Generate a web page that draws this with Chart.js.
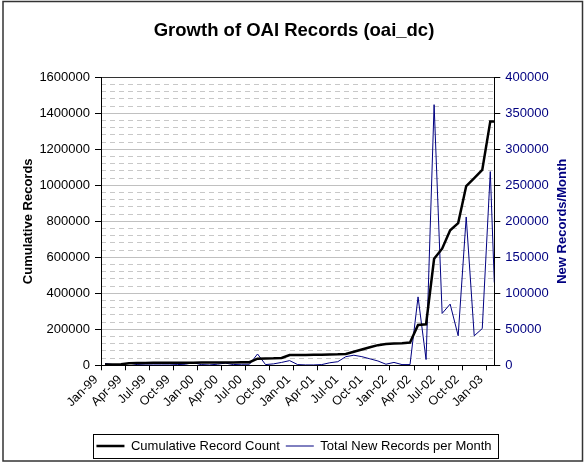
<!DOCTYPE html>
<html>
<head>
<meta charset="utf-8">
<script src="https://cdn.jsdelivr.net/npm/chart.js@4.4.0/dist/chart.umd.min.js"></script>
<style>
  html, body { margin: 0; padding: 0; background: #fff; }
  canvas { display: block; }
</style>
</head>
<body>
<canvas id="grafico" width="588" height="464"></canvas>
<script>
// monthly samples, Jan-99 .. Jan-03, plus the count taken at the start of Feb-03
const months = [
  'Jan-99', 'Feb-99', 'Mar-99', 'Apr-99', 'May-99', 'Jun-99', 'Jul-99', 'Aug-99', 'Sep-99', 'Oct-99', 'Nov-99', 'Dec-99',
  'Jan-00', 'Feb-00', 'Mar-00', 'Apr-00', 'May-00', 'Jun-00', 'Jul-00', 'Aug-00', 'Sep-00', 'Oct-00', 'Nov-00', 'Dec-00',
  'Jan-01', 'Feb-01', 'Mar-01', 'Apr-01', 'May-01', 'Jun-01', 'Jul-01', 'Aug-01', 'Sep-01', 'Oct-01', 'Nov-01', 'Dec-01',
  'Jan-02', 'Feb-02', 'Mar-02', 'Apr-02', 'May-02', 'Jun-02', 'Jul-02', 'Aug-02', 'Sep-02', 'Oct-02', 'Nov-02', 'Dec-02',
  'Jan-03', 'Feb-03'
];

const cumulative = [
  4000, 5000, 6000, 12000, 13000, 13000, 13500, 13500, 14000, 14000, 14000, 14500,
  15000, 15000, 15500, 16000, 16000, 16500, 17000, 37000, 38000, 39000, 41000, 57000,
  57000, 57500, 58000, 59000, 60000, 61000, 63000, 75000, 88000, 100000, 112000, 118000,
  121000, 123000, 126000, 224000, 228000, 592000, 648000, 750000, 790000, 996000, 1040000, 1085000,
  1355000, 1355000
];

const newPerMonth = [
  2500, 1000, 1000, 3000, 1000, 500, 500, 500, 500, 1000, 1500, 3500,
  1000, 500, 1500, 3000, 1000, 1500, 1500, 15700, 1000, 2000, 4000, 6500,
  1000, 500, 500, 1000, 3500, 5000, 12000, 14000, 12000, 9000, 6000, 1500,
  4000, 1000, 1000, 95000, 8000, 362000, 72000, 85000, 41000, 206000, 41000, 51000,
  269000, 115000
];

const xTickLabels = [
  'Jan-99', 'Apr-99', 'Jul-99', 'Oct-99', 'Jan-00', 'Apr-00', 'Jul-00', 'Oct-00',
  'Jan-01', 'Apr-01', 'Jul-01', 'Oct-01', 'Jan-02', 'Apr-02', 'Jul-02', 'Oct-02', 'Jan-03'
];
const leftTicks = [0, 200000, 400000, 600000, 800000, 1000000, 1200000, 1400000, 1600000];
const rightTicks = [0, 50000, 100000, 150000, 200000, 250000, 300000, 350000, 400000];

// mid-month position for each sample, the last one sits on 1 Feb-03
const monthPos = months.map((m, i) => i < months.length - 1 ? i + 0.5 : i);

Chart.defaults.font.family = "'Liberation Sans', Arial, sans-serif";

// white background, outer frame, frame round the legend, right axis title
const molduras = {
  id: 'molduras',
  beforeDraw(chart) {
    const ctx = chart.ctx;
    ctx.save();
    ctx.fillStyle = '#fff';
    ctx.fillRect(0, 0, chart.width, chart.height);
    ctx.restore();
  },
  afterDraw(chart) {
    const ctx = chart.ctx;
    ctx.save();
    ctx.strokeStyle = '#333';
    ctx.lineWidth = 1.5;
    ctx.strokeRect(3, 1.5, 579.5, 459.5);

    const hb = chart.legend.legendHitBoxes;
    const last = hb[hb.length - 1];
    const l = Math.round(hb[0].left - 3), r = Math.round(last.left + last.width + 6);
    const t = Math.round(hb[0].top - 5.5), b = Math.round(hb[0].top + hb[0].height + 5.5);
    ctx.strokeStyle = '#000';
    ctx.lineWidth = 1;
    ctx.strokeRect(l + 0.5, t + 0.5, r - l, b - t);

    const area = chart.chartArea;
    ctx.translate(chart.scales.y1.right - 26, (area.top + area.bottom) / 2);
    ctx.rotate(-Math.PI / 2);
    ctx.font = "bold 13px 'Liberation Sans', Arial, sans-serif";
    ctx.fillStyle = '#000080';
    ctx.textAlign = 'center';
    ctx.textBaseline = 'middle';
    ctx.fillText('New Records/Month', 0, 0);
    ctx.restore();
  }
};

const grafico = new Chart(document.getElementById('grafico').getContext('2d'), {
  type: 'line',
  data: {
    datasets: [{
      label: 'Cumulative Record Count',
      data: cumulative.map((v, i) => ({ x: monthPos[i], y: v })),
      borderColor: '#000',
      borderWidth: 2.5,
      pointRadius: 0,
      tension: 0,
      yAxisID: 'y'
    }, {
      label: 'Total New Records per Month',
      data: newPerMonth.map((v, i) => ({ x: monthPos[i], y: v })),
      borderColor: '#000080',
      borderWidth: 1,
      pointRadius: 0,
      tension: 0,
      yAxisID: 'y1'
    }]
  },
  options: {
    responsive: false,
    animation: false,
    devicePixelRatio: 1,
    layout: { padding: { left: 0, right: 0, top: 0, bottom: 1.5 } },
    plugins: {
      title: {
        display: true,
        text: 'Growth of OAI Records (oai_dc)',
        color: '#000',
        font: { size: 18.5, weight: 'bold' },
        padding: { top: 20, bottom: 35.1 }
      },
      legend: {
        position: 'bottom',
        labels: {
          usePointStyle: true,
          pointStyle: 'line',
          pointStyleWidth: 28,
          color: '#000',
          font: { size: 13 },
          padding: 6
        }
      },
      tooltip: { enabled: false }
    },
    scales: {
      x: {
        type: 'linear',
        min: 0,
        max: months.length - 1,
        afterBuildTicks: s => { s.ticks = xTickLabels.map((_, k) => ({ value: k * 3 })); },
        afterFit: s => { s.height = 68.2; },
        ticks: {
          autoSkip: false,
          minRotation: 45,
          maxRotation: 45,
          padding: 2,
          labelOffset: -5,
          color: '#000',
          font: { size: 12.5 },
          callback: v => xTickLabels[v / 3]
        },
        grid: { drawOnChartArea: false, tickLength: 5, tickColor: '#000' },
        border: { color: '#000' }
      },
      y: {
        position: 'left',
        min: leftTicks[0],
        max: leftTicks[leftTicks.length - 1],
        afterFit: s => { s.width = 101; },
        ticks: {
          stepSize: leftTicks[1] - leftTicks[0],
          padding: 5,
          color: '#000',
          font: { size: 13 },
          callback: v => String(v)
        },
        grid: {
          color: c => (c.tick.value === leftTicks[0] || c.tick.value === leftTicks[leftTicks.length - 1]) ? '#333' : '#c0c0c0',
          tickLength: 6,
          tickColor: '#000'
        },
        border: { color: '#000' },
        title: {
          display: true,
          text: 'Cumulative Records',
          color: '#000',
          font: { size: 13, weight: 'bold' },
          padding: { top: 21, bottom: 0 }
        }
      },
      y1: {
        position: 'right',
        min: rightTicks[0],
        max: rightTicks[rightTicks.length - 1],
        afterFit: s => { s.width = 93.7; },
        ticks: {
          stepSize: 10000,
          autoSkip: false,
          padding: 5,
          color: '#000080',
          font: { size: 13 },
          callback: v => rightTicks.includes(v) ? String(v) : ''
        },
        grid: {
          color: c => rightTicks.includes(c.tick.value) ? 'transparent' : '#c8c8c8',
          tickLength: 6,
          tickColor: c => rightTicks.includes(c.tick.value) ? '#000' : 'transparent'
        },
        border: { color: '#000', dash: [5, 4] }
      }
    }
  },
  plugins: [molduras]
});
</script>
</body>
</html>
